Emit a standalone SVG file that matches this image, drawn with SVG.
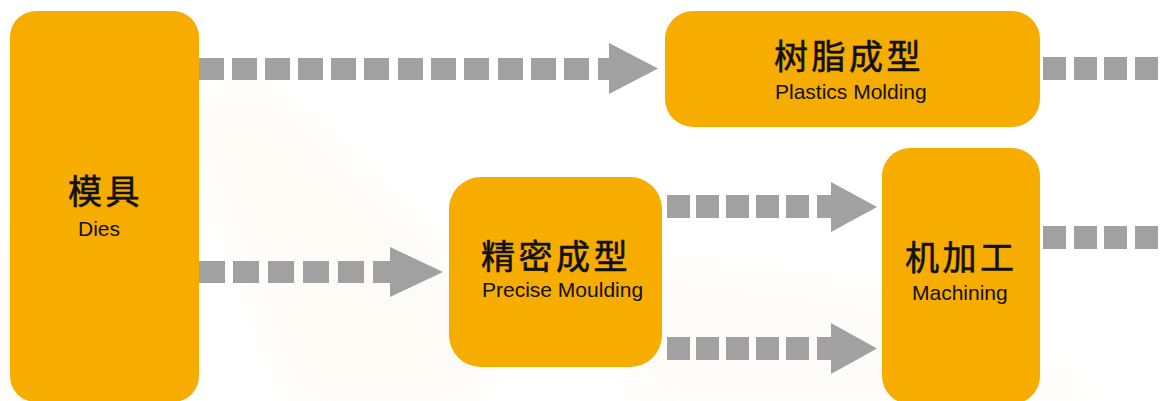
<svg xmlns="http://www.w3.org/2000/svg" width="1164" height="401" viewBox="0 0 1164 401">
<defs>
<style>
.box{fill:#F7AC00;}
.d{fill:#A0A1A0;}
.cn{font-family:"Noto Sans CJK SC","Noto Sans CJK JP",sans-serif;font-size:34px;font-weight:normal;letter-spacing:3.5px;fill:#111;stroke:#111;stroke-width:0.6px;}
.en{font-family:"Liberation Sans",Arial,sans-serif;font-size:21px;fill:#111;}
</style>
<filter id="blur" x="-20%" y="-20%" width="140%" height="140%"><feGaussianBlur stdDeviation="18"/></filter>
</defs>
<rect width="1164" height="401" fill="#FFFFFF"/>
<g opacity="0.3" filter="url(#blur)">
<path d="M190,110 L260,90 L520,330 L460,401 L300,401 Z" fill="#FBF2E4"/>
<path d="M0,240 L120,200 L180,401 L0,401 Z" fill="#FBF0E0"/>
<path d="M600,260 L900,300 L1100,401 L640,401 Z" fill="#FCF5EA"/>
</g>
<g id="connectors">
<g id="c1">
<rect class="d" x="199" y="58" width="25" height="22"/>
<rect class="d" x="232" y="58" width="25" height="22"/>
<rect class="d" x="265" y="58" width="25" height="22"/>
<rect class="d" x="298" y="58" width="25" height="22"/>
<rect class="d" x="331" y="58" width="25" height="22"/>
<rect class="d" x="364" y="58" width="25" height="22"/>
<rect class="d" x="398" y="58" width="25" height="22"/>
<rect class="d" x="431" y="58" width="25" height="22"/>
<rect class="d" x="464" y="58" width="25" height="22"/>
<rect class="d" x="498" y="58" width="25" height="22"/>
<rect class="d" x="531" y="58" width="25" height="22"/>
<rect class="d" x="564" y="58" width="25" height="22"/>
<polygon class="d" points="598,58 609,58 609,43 658,68.5 609,94 609,80 598,80"/>
</g>
<g id="c2">
<rect class="d" x="199" y="261" width="26" height="22"/>
<rect class="d" x="233" y="261" width="26" height="22"/>
<rect class="d" x="268" y="261" width="26" height="22"/>
<rect class="d" x="303" y="261" width="26" height="22"/>
<rect class="d" x="338" y="261" width="26" height="22"/>
<polygon class="d" points="373,261 390,261 390,247 443,272 390,297 390,283 373,283"/>
</g>
<g id="c3">
<rect class="d" x="667" y="195" width="23" height="23"/>
<rect class="d" x="696" y="195" width="23" height="23"/>
<rect class="d" x="726" y="195" width="23" height="23"/>
<rect class="d" x="756" y="195" width="23" height="23"/>
<rect class="d" x="786" y="195" width="23" height="23"/>
<polygon class="d" points="817,195 831,195 831,182 877,207 831,232 831,218 817,218"/>
</g>
<g id="c4">
<rect class="d" x="667" y="337" width="23" height="23"/>
<rect class="d" x="696" y="337" width="23" height="23"/>
<rect class="d" x="726" y="337" width="23" height="23"/>
<rect class="d" x="756" y="337" width="23" height="23"/>
<rect class="d" x="786" y="337" width="23" height="23"/>
<polygon class="d" points="817,337 831,337 831,323 877,348.5 831,374 831,360 817,360"/>
</g>
<g id="c5">
<rect class="d" x="1043" y="57" width="23" height="23"/>
<rect class="d" x="1074" y="57" width="23" height="23"/>
<rect class="d" x="1104" y="57" width="23" height="23"/>
<rect class="d" x="1135" y="57" width="23" height="23"/>
</g>
<g id="c6">
<rect class="d" x="1043" y="226" width="23" height="23"/>
<rect class="d" x="1074" y="226" width="23" height="23"/>
<rect class="d" x="1104" y="226" width="23" height="23"/>
<rect class="d" x="1135" y="226" width="23" height="23"/>
</g>
</g>
<g id="dies">
<rect class="box" x="10" y="11" width="189" height="391" rx="26"/>
<text class="cn" x="68" y="204">模具</text>
<text class="en" x="78" y="236">Dies</text>
</g>
<g id="plastics">
<rect class="box" x="665" y="11" width="375" height="116" rx="28"/>
<text class="cn" x="774" y="69">树脂成型</text>
<text class="en" x="775" y="99">Plastics Molding</text>
</g>
<g id="precise">
<rect class="box" x="449" y="177" width="213" height="190" rx="32"/>
<text class="cn" x="481" y="269">精密成型</text>
<text class="en" x="482" y="297">Precise Moulding</text>
</g>
<g id="machining">
<rect class="box" x="882" y="148" width="158" height="256" rx="28"/>
<text class="cn" x="905" y="270">机加工</text>
<text class="en" x="912" y="300">Machining</text>
</g>
</svg>
